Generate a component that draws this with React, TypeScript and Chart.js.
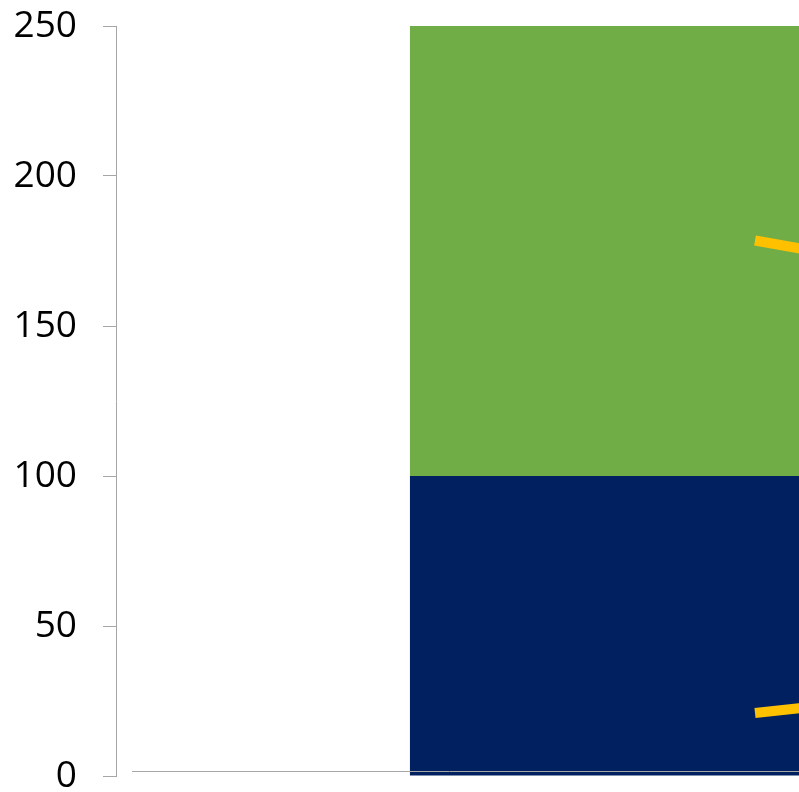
import React, { useEffect, useRef } from "react";
import { Chart, registerables } from "chart.js";

Chart.register(...registerables);

const categories = ["Category 1", "Category 2"];
const seriesBase = [100, 95];
const seriesTop = [150, 140];
const lineUpper = [178.5, 103];
const lineLower = [21, 67];
const yTicks = [0, 50, 100, 150, 200, 250];

const AXIS_GREY = "#A6A6A6";

const baselinePlugin = {
  id: "baselinePlugin",
  afterDatasetsDraw(chart: any) {
    const { ctx, chartArea } = chart;
    ctx.save();
    ctx.strokeStyle = AXIS_GREY;
    ctx.lineWidth = 1;
    ctx.beginPath();
    const y = Math.round(chartArea.bottom - 5) + 0.5;
    ctx.moveTo(chartArea.left + 16, y);
    ctx.lineTo(chartArea.right, y);
    ctx.stroke();
    ctx.restore();
  },
};

export default function App() {
  const ref = useRef<HTMLCanvasElement | null>(null);
  useEffect(() => {
    if (!ref.current) return;
    const chart = new Chart(ref.current, {
      type: "bar",
      data: {
        labels: categories,
        datasets: [
          {
            type: "line",
            label: "Upper",
            data: lineUpper,
            borderColor: "#FFC000",
            backgroundColor: "#FFC000",
            borderWidth: 10,
            pointRadius: 0,
            stack: "l1",
            order: 0,
            borderCapStyle: "butt",
          } as any,
          {
            type: "line",
            label: "Lower",
            data: lineLower,
            borderColor: "#FFC000",
            backgroundColor: "#FFC000",
            borderWidth: 10,
            pointRadius: 0,
            stack: "l2",
            order: 0,
            borderCapStyle: "butt",
          } as any,
          {
            type: "bar",
            label: "Base",
            data: seriesBase,
            backgroundColor: "#002060",
            stack: "bars",
            order: 1,
            categoryPercentage: 1,
            barPercentage: 0.54,
          },
          {
            type: "bar",
            label: "Top",
            data: seriesTop,
            backgroundColor: "#70AD47",
            stack: "bars",
            order: 1,
            categoryPercentage: 1,
            barPercentage: 0.54,
          },
        ],
      },
      options: {
        responsive: false,
        animation: false,
        devicePixelRatio: 1,
        layout: { autoPadding: false, padding: { top: 26, bottom: 16, left: 0, right: 0 } },
        plugins: { legend: { display: false }, tooltip: { enabled: false } },
        scales: {
          x: { display: false, stacked: true, offset: true },
          y: {
            stacked: true,
            min: 0,
            max: 250,
            afterBuildTicks: (scale: any) => {
              scale.ticks = yTicks.map((v) => ({ value: v }));
            },
            afterFit: (scale: any) => {
              scale.width = 116;
              scale.paddingTop = 0;
              scale.paddingBottom = 0;
            },
            border: { display: true, color: AXIS_GREY, width: 1 },
            grid: {
              drawOnChartArea: false,
              drawTicks: true,
              tickLength: 13,
              color: AXIS_GREY,
            },
            ticks: {
              color: "#000000",
              padding: 26,
              font: { family: "'Open Sans', sans-serif", size: 37, lineHeight: 0.8 },
            },
          },
        },
      },
      plugins: [baselinePlugin],
    });
    return () => chart.destroy();
  }, []);
  return (
    <div
      style={{
        position: "absolute",
        left: 0,
        top: 0,
        width: 799,
        height: 792,
        overflow: "hidden",
        background: "#ffffff",
      }}
    >
      <canvas ref={ref} width={2672} height={792} style={{ display: "block" }} />
    </div>
  );
}
